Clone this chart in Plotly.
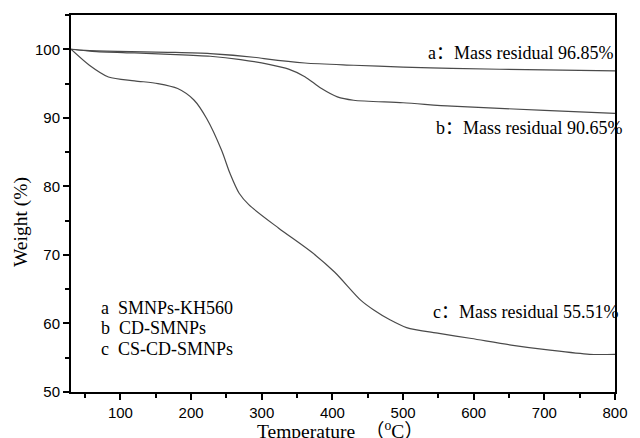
import plotly.graph_objects as go

temp_a = [30, 50, 97, 167, 227, 292, 306, 361, 430, 500, 569, 700, 800]
weight_a = [100, 99.85, 99.7, 99.56, 99.37, 98.8, 98.6, 98.0, 97.67, 97.4, 97.2, 97.0, 96.85]

temp_b = [30, 60, 120, 170, 227, 270, 310, 338, 361, 384, 407, 430, 500, 569, 700, 800]
weight_b = [100, 99.7, 99.46, 99.27, 98.98, 98.5, 97.8, 97.1, 96.0, 94.3, 93.05, 92.56, 92.2, 91.7, 91.1, 90.65]

temp_c = [30, 56, 83, 120, 153, 181, 204, 222, 243, 255, 268, 282, 324, 370, 403, 440,
          458, 482, 505, 551, 597, 653, 708, 764, 800]
weight_c = [100, 97.67, 95.96, 95.4, 95.0, 94.27, 92.6, 89.9, 85.3, 81.9, 79.0, 77.3, 73.9,
            70.45, 67.5, 63.4, 62.0, 60.5, 59.4, 58.55, 57.8, 56.85, 56.1, 55.5, 55.5]

residual_labels = ["a：Mass residual 96.85%", "b：Mass residual 90.65%", "c：Mass residual 55.51%"]
legend_labels = ["a\u00a0\u00a0SMNPs-KH560", "b\u00a0\u00a0CD-SMNPs", "c\u00a0\u00a0CS-CD-SMNPs"]

line_color = "#4a4a4a"
serif = "Liberation Serif, Noto Sans CJK SC, serif"
sans = "Liberation Sans, Arial, sans-serif"

fig = go.Figure()
for xs, ys in [(temp_a, weight_a), (temp_b, weight_b), (temp_c, weight_c)]:
    fig.add_trace(go.Scatter(x=xs, y=ys, mode="lines",
                             line=dict(color=line_color, width=1.2, shape="spline", smoothing=0.8),
                             showlegend=False, hoverinfo="skip"))

axis_common = dict(showgrid=False, zeroline=False, showline=True, linecolor="black", linewidth=2,
                   mirror=True, ticks="outside", ticklen=6, tickwidth=1.5, tickcolor="black",
                   tickfont=dict(family=sans, size=15, color="black"))

fig.update_xaxes(range=[30, 800], tick0=0, dtick=100,
                 minor=dict(ticks="outside", dtick=50, tick0=0, ticklen=4, tickwidth=1.5, tickcolor="black"),
                 **axis_common)
fig.update_yaxes(range=[50, 105], tick0=50, dtick=10,
                 minor=dict(ticks="outside", dtick=5, tick0=50, ticklen=4, tickwidth=1.5, tickcolor="black"),
                 **axis_common)

ann_font = dict(family=serif, size=18, color="black")
# residual annotations (x in paper units, y in data units)
res_pos = [(1.0, 99.45), (1.016, 88.5), (1.009, 61.66)]
for txt, (x, y) in zip(residual_labels, res_pos):
    fig.add_annotation(xref="paper", x=x, y=y, text=txt, showarrow=False, xanchor="right",
                       yanchor="middle", font=ann_font)

leg_y = [62.24, 59.33, 56.27]
for txt, y in zip(legend_labels, leg_y):
    fig.add_annotation(x=69.4, y=y, text=txt, showarrow=False, xanchor="left", yanchor="middle", font=ann_font)

# axis titles
fig.add_annotation(xref="paper", yref="paper", x=0.4955, y=-0.1, text="Temperature\u00a0\u00a0（<sup>o</sup>C）",
                   showarrow=False, xanchor="center", yanchor="middle", font=dict(family=serif, size=19.5, color="black"))
fig.add_annotation(xref="paper", yref="paper", x=-0.0919, y=0.451, text="Weight (%)", textangle=-90,
                   showarrow=False, xanchor="center", yanchor="middle", font=dict(family=serif, size=19.5, color="black"))

fig.update_layout(width=640, height=438, margin=dict(l=71, r=14, t=15, b=46),
                  paper_bgcolor="white", plot_bgcolor="white")

fig.write_html("out.html")
